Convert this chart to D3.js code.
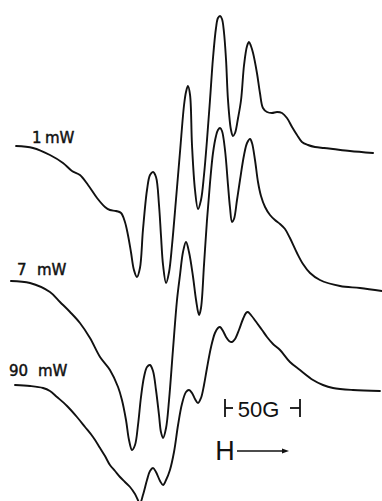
<!DOCTYPE html>
<html>
<head>
<meta charset="utf-8">
<script src="https://cdn.jsdelivr.net/npm/d3@7"></script>
<style>
  html, body { margin: 0; padding: 0; background: #fff; }
  svg { display: block; }
</style>
</head>
<body>
<script>
// EPR derivative spectra recorded at three microwave powers.
// Field in gauss (relative), signal in arbitrary units (stacked).
const field1 = [0.7, 12, 23.3, 32, 38, 43.3, 48.7, 54.7, 60, 63.3, 67.3, 70.7, 73.3, 75.3, 77.3, 79.3, 81.3, 83.3, 85.3, 88, 90, 92, 94, 96, 97.3, 98.7, 100.7, 102.7, 104.7, 107.3, 110, 112.7, 114, 115.3, 116.7, 118, 120, 122, 124, 126, 128, 130, 132, 134, 135.3, 136.7, 138, 139.3, 140.7, 142, 144, 145.3, 146.7, 148.7, 150.7, 152.7, 154.7, 156, 157.3, 158.7, 161.3, 163.3, 165.3, 168, 171.3, 174.7, 178, 181.3, 184.7, 188, 191.3, 195.3, 200, 206, 212, 223.3, 238.7];
const signal1 = [354, 352, 345, 337, 329, 325, 315, 302, 293, 290, 289, 287, 278, 265, 248, 230, 223, 232, 270, 310, 325, 328, 323, 295, 265, 235, 217, 228, 255, 300, 348, 395, 408, 414, 405, 355, 310, 291, 300, 325, 360, 400, 442, 472, 482, 484, 481, 468, 440, 400, 370, 364, 367, 382, 400, 435, 454, 458, 454, 447, 427, 407, 392, 388, 387, 388, 387, 382, 373, 365, 358, 355, 353, 352, 351, 349, 347];

const field2 = [-2.7, 10, 23.3, 30, 36.7, 43.3, 50, 56.7, 63.3, 68.7, 71.3, 74, 76, 78, 80, 82, 84, 86, 88, 90, 92, 94, 96, 97.3, 98.7, 100.7, 102.7, 105.3, 108, 110, 112, 114, 116, 118.7, 120.7, 122.7, 124, 126, 128, 130, 132, 134, 135.3, 136.7, 138, 140, 142, 143.3, 144.7, 146, 148, 150, 152.7, 154.7, 156.7, 158, 160, 162, 164, 166.7, 170, 173.3, 176.7, 180, 183.3, 188, 192, 196.7, 203.3, 216.7, 230, 244.7];
const signal2 = [219, 217, 208, 198, 188, 177, 162, 143, 130, 113, 100, 80, 60, 50, 55, 75, 103, 123, 133, 135, 129, 110, 85, 68, 62, 72, 100, 150, 200, 225, 248, 258, 248, 223, 200, 185, 192, 235, 280, 317, 347, 364, 370, 372, 369, 350, 315, 293, 278, 281, 300, 320, 345, 357, 361, 357, 340, 318, 304, 293, 285, 280, 276, 271, 262, 247, 236, 227, 220, 214, 212, 209];

const field3 = [0, 10, 18.7, 23.3, 28, 34.7, 41.3, 46.7, 52, 56.7, 60, 63.3, 66.7, 70, 73.3, 76.7, 80, 83.3, 85.3, 88, 90, 92, 94, 96.7, 98.7, 100.7, 103.3, 106, 108.7, 111.3, 114, 116, 118, 120, 122, 124, 126, 128, 130.7, 133.3, 135.3, 136.7, 138.7, 140.7, 142.7, 144.7, 146.7, 149.3, 152, 154, 155.3, 157.3, 161.3, 164.7, 168, 172, 176.7, 183.3, 190, 198.7, 205.3, 212, 225.3, 243.3];
const signal3 = [115, 114, 112, 109, 103, 94, 83, 73, 63, 52, 44, 35, 29, 23, 18, 13, 6, -3, 5, 20, 29, 32, 28, 19, 15, 20, 30, 48, 75, 96, 108, 110, 107, 101, 97, 102, 115, 132, 153, 167, 172, 173, 169, 163, 159, 158, 161, 170, 181, 187, 188, 185, 177, 170, 163, 156, 150, 138, 130, 120, 115, 112, 110, 109];

const powers = ["1", "7", "90"];
const powerUnit = "mW";
const scaleBarGauss = 50;
const scaleBarLabel = "50G";
const fieldLabel = "H";

const W = 382, H = 501;
const svg = d3.select("body").append("svg")
  .attr("width", W).attr("height", H)
  .attr("viewBox", `0 0 ${W} ${H}`);

const x = d3.scaleLinear().domain([0, 245]).range([15, 382.5]);
const y = d3.scaleLinear().domain([0, 500]).range([500, 0]);

const line = d3.line()
  .x(d => x(d[0]))
  .y(d => y(d[1]))
  .curve(d3.curveCatmullRom.alpha(0.5));

const spectra = [
  d3.zip(field1, signal1),
  d3.zip(field2, signal2),
  d3.zip(field3, signal3)
];

svg.append("g").selectAll("path")
  .data(spectra)
  .join("path")
  .attr("d", line)
  .attr("fill", "none")
  .attr("stroke", "#111")
  .attr("stroke-width", 1.9)
  .attr("stroke-linejoin", "round")
  .attr("stroke-linecap", "round");

// power labels above the left end of each trace
const labelPos = [
  { x: 32, ux: 45, y: 143 },
  { x: 17, ux: 37, y: 275 },
  { x: 9,  ux: 38, y: 376 }
];
const labels = svg.append("g")
  .attr("font-family", "'DejaVu Sans', sans-serif")
  .attr("font-size", 15)
  .attr("fill", "#111")
  .attr("stroke", "#111")
  .attr("stroke-width", 0.45);
powers.forEach((p, i) => {
  const t = labels.append("text").attr("y", labelPos[i].y);
  t.append("tspan").attr("x", labelPos[i].x).text(p);
  t.append("tspan").attr("x", labelPos[i].ux).text(powerUnit);
});

// 50 G scale bar
const barStart = 140;
const bx0 = x(barStart), bx1 = x(barStart + scaleBarGauss);
const by = 408;
const bar = svg.append("g").attr("stroke", "#111").attr("stroke-width", 1.8).attr("fill", "none");
bar.append("line").attr("x1", bx0).attr("x2", bx0).attr("y1", by - 9).attr("y2", by + 9);
bar.append("line").attr("x1", bx0).attr("x2", bx0 + 8).attr("y1", by).attr("y2", by);
bar.append("line").attr("x1", bx1).attr("x2", bx1).attr("y1", by - 9).attr("y2", by + 9);
bar.append("line").attr("x1", bx1 - 10).attr("x2", bx1).attr("y1", by).attr("y2", by);
svg.append("text")
  .attr("x", (bx0 + bx1) / 2 - 4).attr("y", 417)
  .attr("text-anchor", "middle")
  .attr("font-family", "'Liberation Sans', sans-serif")
  .attr("font-size", 22)
  .attr("fill", "#111")
  .text(scaleBarLabel);

// field direction arrow
svg.append("text")
  .attr("x", 225).attr("y", 460)
  .attr("text-anchor", "middle")
  .attr("font-family", "'Liberation Sans', sans-serif")
  .attr("font-size", 27)
  .attr("fill", "#111")
  .text(fieldLabel);
svg.append("line")
  .attr("x1", 237).attr("x2", 284).attr("y1", 451).attr("y2", 451)
  .attr("stroke", "#111").attr("stroke-width", 1.6);
svg.append("path")
  .attr("d", "M282,448.5 L289,451 L282,453.5 Z")
  .attr("fill", "#111");
</script>
</body>
</html>
